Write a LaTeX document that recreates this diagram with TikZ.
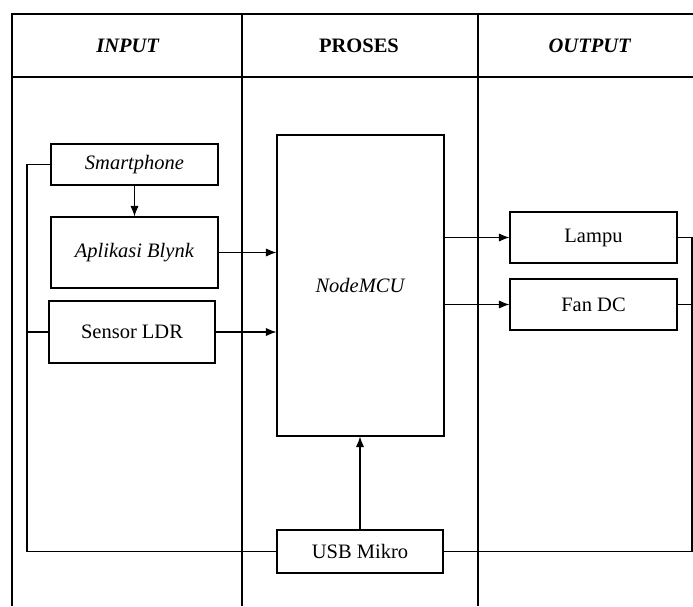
\documentclass[tikz,border=0pt]{standalone}
\usepackage{fontspec}
\setmainfont{Liberation Serif}
\usetikzlibrary{arrows.meta,positioning}

\begin{document}
\begin{tikzpicture}[>={Latex[length=9pt,width=7pt]},x=0.03cm,y=-0.03cm,line width=0.9pt,
every node/.style={font=\fontsize{17.5}{20}\selectfont},
blok/.style={draw,rectangle,inner sep=0pt,minimum width=5.01cm}]
\useasboundingbox (0,0) rectangle (693,606);
% tabel
\draw (12,606) -- (12,14) -- (693,14);
\draw (12,77) -- (693,77);
\draw (242,14) -- (242,606);
\draw (478,14) -- (478,606);
\node (hin)  at (128,46) {\textbf{\textit{INPUT}}};
\node (hpro) at (359,46) {\textbf{PROSES}};
\node (hout) at (590,46) {\textbf{\textit{OUTPUT}}};

\node[blok,minimum height=1.23cm] (smart) at (134.5,164.5) {\textit{Smartphone}};
\node[blok,minimum height=2.13cm] (blynk) at (134.5,252.5) {\textit{Aplikasi Blynk}};
\node[blok,minimum height=1.86cm,minimum width=4.98cm] (ldr) at (132,332) {Sensor LDR};
\node[blok,minimum height=9.03cm] (mcu) at (360.5,285.5) {\textit{NodeMCU}};
\node[blok,minimum height=1.53cm] (lampu) at (593.5,237.5) {Lampu};
\node[blok,minimum height=1.53cm] (fan) at (593.5,304.5) {Fan DC};
\node[blok,minimum height=1.29cm,minimum width=4.98cm] (usb) at (360,551.5) {USB Mikro};
\coordinate (bl) at (27,555);
\coordinate (br) at (692,551);

\path[->] (smart) edge (blynk)
(blynk.east) edge (blynk.east -| mcu.west)
(ldr.east) edge (ldr.east -| mcu.west)
(mcu.east |- lampu.west) edge (lampu.west)
(mcu.east |- fan.west) edge (fan.west)
(usb.north) edge (usb.north |- mcu.south);

% catu daya
\draw (smart.west) -- (smart.west -| bl) -- (bl |- usb.west) -- (usb.west);
\draw (ldr.west) -- (ldr.west -| bl);
\draw (lampu.east) -- (lampu.east -| br) -- (br |- usb.east) -- (usb.east);
\draw (fan.east) -- (fan.east -| br);
\end{tikzpicture}
\end{document}
